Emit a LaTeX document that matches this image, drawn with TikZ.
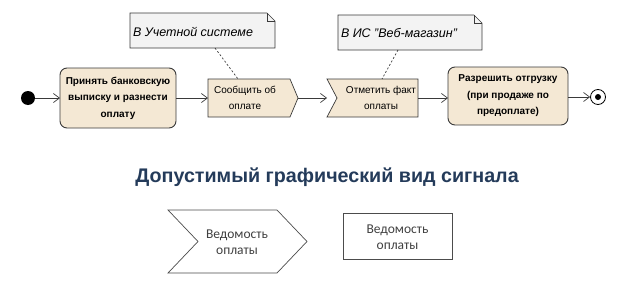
\documentclass[tikz,border=0pt]{standalone}
\usepackage{fontspec}
\setmainfont{Liberation Sans}
\newfontfamily\calib{Carlito}
\usetikzlibrary{arrows.meta,calc}
\definecolor{actfill}{HTML}{F4E8D4}
\definecolor{notefill}{HTML}{F3F3F3}
\definecolor{linec}{HTML}{3A3A3A}
\definecolor{titlec}{HTML}{243B5A}
\tikzset{
  box/.style={inner sep=0pt, outer sep=0pt, align=center},
  actbox/.style={box, draw=linec, line width=0.9pt, fill=actfill, rounded corners=7pt, font=\fontsize{10}{16.5}\selectfont\bfseries},
  sigtext/.style={box, font=\fontsize{10}{16}\selectfont},
  notetext/.style={box, font=\fontsize{12.5}{13}\selectfont\itshape},
  flow/.style={draw=linec, line width=0.7pt, -{Straight Barb[length=6pt,width=9pt,line width=0.7pt]}},
  notelink/.style={draw=linec, line width=0.7pt, dash pattern=on 2pt off 2pt},
  shapeline/.style={draw=linec, line width=0.7pt},
  btext/.style={box, font=\calib\fontsize{13.5}{16}\selectfont, text=black!75}
}
\begin{document}
\begin{tikzpicture}[x=1pt,y=-1pt]
\useasboundingbox (0,0) rectangle (624,284);
% initial node
\node[circle, fill=black, minimum size=14pt, inner sep=0pt] (init) at (28,98) {};
% action 1
\node[actbox, minimum width=116pt, minimum height=60pt] (a1) at (118,98) {Принять банковскую\\выписку и разнести\\оплату};
% send signal
\node[box, minimum width=90pt, minimum height=38pt] (send) at (253,98) {};
\draw[shapeline, fill=actfill] (send.north west) -- ($(send.north east)+(-8,0)$) -- (send.east) -- ($(send.south east)+(-8,0)$) -- (send.south west) -- cycle;
\node[sigtext] (sendt) at (245,98) {Сообщить об\\оплате};
% accept event
\node[box, minimum width=91pt, minimum height=38pt] (acc) at (372.5,98) {};
\draw[shapeline, fill=actfill] (acc.north west) -- (acc.north east) -- (acc.south east) -- (acc.south west) -- ($(acc.west)+(10,0)$) -- cycle;
\node[sigtext] (acct) at (381,98) {Отметить факт\\оплаты};
% action 2
\node[actbox, minimum width=120pt, minimum height=58pt] (a2) at (508,96) {Разрешить отгрузку\\(при продаже по\\предоплате)};
% final node
\node[circle, draw=black, line width=0.8pt, fill=white, minimum size=15pt, inner sep=0pt] (fin) at (598,97) {};
\node[circle, fill=black, minimum size=6pt, inner sep=0pt] (finin) at (598,97) {};
% notes
\node[box, minimum width=145pt, minimum height=35pt] (n1) at (202.5,30.5) {};
\draw[shapeline, fill=notefill] (n1.north west) -- ($(n1.north east)+(-8,0)$) -- ($(n1.north east)+(0,8)$) -- (n1.south east) -- (n1.south west) -- cycle;
\draw[shapeline] ($(n1.north east)+(-8,0)$) -- ($(n1.north east)+(-8,8)$) -- ($(n1.north east)+(0,8)$);
\node[notetext, anchor=west] (n1t) at (133,32) {В Учетной системе};
\node[box, minimum width=144pt, minimum height=35pt] (n2) at (410,32.5) {};
\draw[shapeline, fill=notefill] (n2.north west) -- ($(n2.north east)+(-8,0)$) -- ($(n2.north east)+(0,8)$) -- (n2.south east) -- (n2.south west) -- cycle;
\draw[shapeline] ($(n2.north east)+(-8,0)$) -- ($(n2.north east)+(-8,8)$) -- ($(n2.north east)+(0,8)$);
\node[notetext, anchor=west] (n2t) at (341,33) {В ИС {\char34}Веб-магазин{\char34}};
% note links
\coordinate (l1a) at (215,48);
\coordinate (l1b) at (238,79);
\draw[notelink] (l1a) -- (l1b);
\coordinate (l2a) at (398,50);
\coordinate (l2b) at (382,79);
\draw[notelink] (l2a) -- (l2b);
% flows
\draw[flow] (init) -- (a1.west);
\draw[flow] (a1.east) -- (send.west);
\draw[flow] (send.east) -- (acc.west);
\draw[flow] (acc.east) -- (a2.west |- acc.east);
\draw[flow] (a2.east |- fin.west) -- (fin.west);
% title
\node[box, font=\fontsize{19.7}{22}\selectfont\bfseries, text=titlec] (title) at (327,177) {Допустимый графический вид сигнала};
% bottom shapes
\node[box, minimum width=139pt, minimum height=63pt] (chev) at (237.5,241.5) {};
\draw[shapeline, draw=black!70, fill=white] (chev.north west) -- ($(chev.north east)+(-30,0)$) -- (chev.east) -- ($(chev.south east)+(-30,0)$) -- (chev.south west) -- ($(chev.west)+(30,0)$) -- cycle;
\node[btext] (chevt) at (237,242) {Ведомость\\оплаты};
\node[btext] (rectt) at (397.5,237) {Ведомость\\оплаты};
\node[box, draw=black!70, line width=0.7pt, minimum width=109pt, minimum height=46pt] (rect) at (397.5,236) {};
\end{tikzpicture}
\end{document}
